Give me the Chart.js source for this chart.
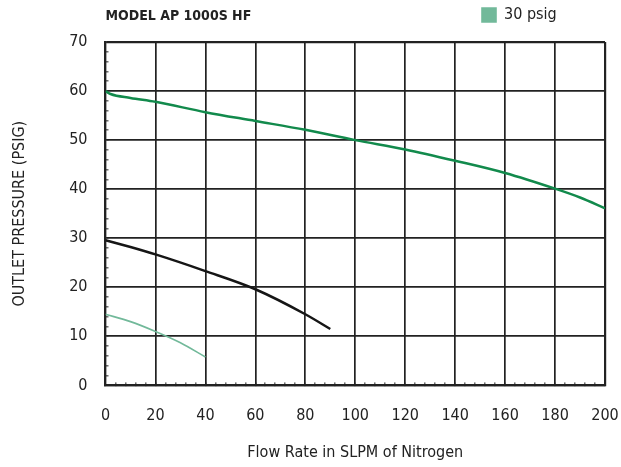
<!DOCTYPE html>
<html>
<head>
<meta charset="utf-8">
<title>Model AP 1000S HF flow curve</title>
<script src="https://cdn.jsdelivr.net/npm/chart.js@4.4.1/dist/chart.umd.min.js"></script>
<style>
  html, body { margin: 0; padding: 0; background: #fff; }
  canvas { display: block; }
</style>
</head>
<body>
<canvas id="flow-chart" width="621" height="467"></canvas>
<script>
// values (SLPM vs psig)
const highFlow = [0, 2, 10, 20, 40, 60, 80, 100, 120, 140, 160, 180, 190, 200];
const highPressure = [60, 59.4, 58.6, 57.8, 55.7, 53.9, 52.1, 50, 48.1, 45.8, 43.3, 40.1, 38.3, 36.1];

const midFlow = [0, 10, 20, 40, 60, 80, 90];
const midPressure = [29.6, 28.2, 26.7, 23.3, 19.6, 14.5, 11.5];

const lowFlow = [0, 10, 20, 30, 40];
const lowPressure = [14.5, 13.0, 11.0, 8.7, 5.8];

const seriesLabels = ['100 psig', '60 psig', '30 psig'];
const xTicks = [0, 20, 40, 60, 80, 100, 120, 140, 160, 180, 200];
const yTicks = [0, 10, 20, 30, 40, 50, 60, 70];

const FONT = "'Liberation Sans Narrow', 'DejaVu Sans Condensed', 'Arial Narrow', sans-serif";
const INK = '#222222';

const toPoints = (xs, ys) => xs.map((x, i) => ({ x: x, y: ys[i] }));

// model name top left + nudge the legend into the same row
const headerText = {
  id: 'headerText',
  afterLayout(chart) {
    const lg = chart.legend;
    if (lg && lg.lineWidths) {
      lg.right = 482 + lg.lineWidths[0];
      lg.top -= 9;
      lg.bottom -= 9;
    }
  },
  afterDraw(chart) {
    const { ctx, chartArea } = chart;
    ctx.save();
    ctx.font = "bold 14px " + FONT;
    ctx.fillStyle = INK;
    ctx.textBaseline = 'middle';
    ctx.textAlign = 'left';
    ctx.fillText('MODEL AP 1000S HF', chartArea.left, 16);
    ctx.restore();
  }
};

const gridColor = (majors) => (c) => (majors.includes(c.tick.value) ? INK : 'rgba(0,0,0,0)');
const gridWidth = (lo, hi) => (c) => (c.tick.value === lo || c.tick.value === hi ? 2.2 : 1.7);

const ctx = document.getElementById('flow-chart').getContext('2d');

new Chart(ctx, {
  type: 'line',
  data: {
    datasets: [
      {
        label: seriesLabels[0],
        data: toPoints(highFlow, highPressure),
        borderColor: '#128a4c',
        backgroundColor: '#128a4c',
        borderWidth: 2.5,
        pointRadius: 0,
        cubicInterpolationMode: 'monotone'
      },
      {
        label: seriesLabels[1],
        data: toPoints(midFlow, midPressure),
        borderColor: '#161616',
        backgroundColor: '#161616',
        borderWidth: 2.5,
        pointRadius: 0,
        cubicInterpolationMode: 'monotone'
      },
      {
        label: seriesLabels[2],
        data: toPoints(lowFlow, lowPressure),
        borderColor: '#72b99a',
        backgroundColor: '#72b99a',
        borderWidth: 1.6,
        pointRadius: 0,
        cubicInterpolationMode: 'monotone'
      }
    ]
  },
  options: {
    responsive: false,
    animation: false,
    layout: { padding: { top: 6, right: 0, left: 4, bottom: 2 } },
    plugins: {
      tooltip: { enabled: false },
      legend: {
        position: 'top',
        align: 'end',
        labels: {
          filter: (item) => item.text === '30 psig',
          boxWidth: 14,
          boxHeight: 14,
          padding: 10,
          color: INK,
          font: { family: FONT, size: 16 }
        }
      }
    },
    scales: {
      x: {
        type: 'linear',
        min: 0,
        max: 200,
        // tick padding also widens the right gutter, pull it back in
        afterFit: (scale) => { scale.paddingRight = 16; },
        ticks: {
          stepSize: 4,
          autoSkip: false,
          maxRotation: 0,
          padding: 23.4,
          color: INK,
          font: { family: FONT, size: 16 },
          callback: (v) => (xTicks.includes(v) ? String(v) : '')
        },
        grid: {
          color: gridColor(xTicks),
          lineWidth: gridWidth(0, 200),
          tickColor: INK,
          tickWidth: 1,
          tickLength: -3
        },
        border: { color: INK, width: 2.2 },
        title: {
          display: true,
          text: 'Flow Rate in SLPM of Nitrogen',
          color: INK,
          font: { family: FONT, size: 16 },
          padding: { top: -5, bottom: 2.4 }
        }
      },
      y: {
        type: 'linear',
        min: 0,
        max: 70,
        ticks: {
          stepSize: 2,
          autoSkip: false,
          padding: 21,
          color: INK,
          font: { family: FONT, size: 16 },
          callback: (v) => (yTicks.includes(v) ? String(v) : '')
        },
        grid: {
          color: gridColor(yTicks),
          lineWidth: gridWidth(0, 70),
          tickColor: INK,
          tickWidth: 1,
          tickLength: -3
        },
        border: { color: INK, width: 2.2 },
        title: {
          display: true,
          text: 'OUTLET PRESSURE (PSIG)',
          color: INK,
          font: { family: FONT, size: 16 },
          padding: { top: 6, bottom: 19 }
        }
      }
    }
  },
  plugins: [headerText]
});
</script>
</body>
</html>
